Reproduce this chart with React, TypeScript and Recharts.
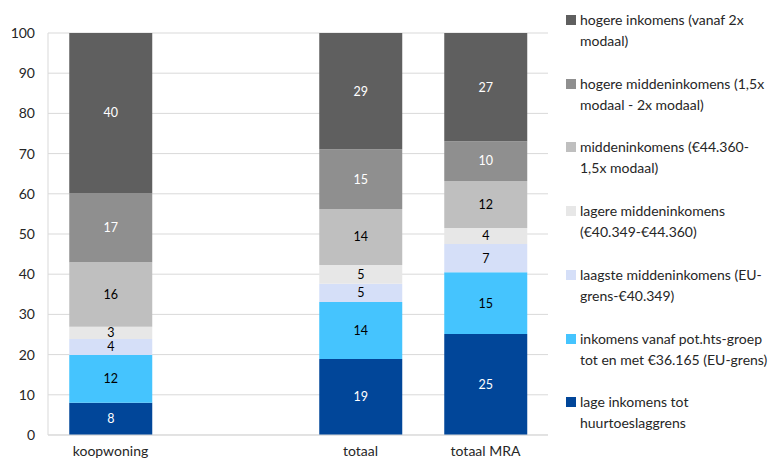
import { BarChart, Bar, XAxis, YAxis, CartesianGrid, LabelList } from "recharts"

const CATEGORIES = ["koopwoning", "", "totaal", "totaal MRA"]

// bottom to top
const LAGE = [8, null, 18.9, 25.1]
const EU = [11.9, null, 14.2, 15.4]
const LAAGSTE = [4, null, 4.5, 7.0]
const LAGERE = [3, null, 4.7, 4.0]
const MIDDEN = [16.1, null, 13.9, 11.7]
const HOGERE_MIDDEN = [17.2, null, 14.9, 9.9]
const HOGERE = [39.8, null, 28.9, 26.9]

const Y_TICKS = [0, 10, 20, 30, 40, 50, 60, 70, 80, 90, 100]

const SERIES = [
  { key: "lage", values: LAGE, name: "lage inkomens tot\nhuurtoeslaggrens", color: "#014699", label: "#ffffff" },
  { key: "eu", values: EU, name: "inkomens vanaf pot.hts-groep\ntot en met €36.165 (EU-grens)", color: "#45c4fe", label: "#000000" },
  { key: "laagste", values: LAAGSTE, name: "laagste middeninkomens (EU-\ngrens-€40.349)", color: "#d5dff8", label: "#000000" },
  { key: "lagere", values: LAGERE, name: "lagere middeninkomens\n(€40.349-€44.360)", color: "#e7e7e7", label: "#000000" },
  { key: "midden", values: MIDDEN, name: "middeninkomens (€44.360-\n1,5x modaal)", color: "#bfbfbf", label: "#000000" },
  { key: "hogereMidden", values: HOGERE_MIDDEN, name: "hogere middeninkomens (1,5x\nmodaal - 2x modaal)", color: "#8f8f8f", label: "#ffffff" },
  { key: "hogere", values: HOGERE, name: "hogere inkomens (vanaf 2x\nmodaal)", color: "#5f5f5f", label: "#ffffff" },
]

const data = CATEGORIES.map((cat, i) => {
  const row: Record<string, any> = { cat }
  SERIES.forEach(s => { row[s.key] = s.values[i] })
  return row
})

const FONT = "Lato, 'Open Sans', sans-serif"

export default function App() {
  return (
    <div style={{ position: "relative", width: 782, height: 459, background: "#fff", fontFamily: FONT }}>
      <style>{"html,body{margin:0;padding:0;}"}</style>
      <BarChart
        width={560}
        height={459}
        data={data}
        margin={{ top: 33, right: 12, left: 0, bottom: 0 }}
        barCategoryGap="17%"
      >
        <CartesianGrid vertical={false} stroke="#d9d9d9" />
        <XAxis
          dataKey="cat"
          stroke="#d9d9d9"
          tickLine={false}
          tickSize={0}
          tick={{ fontFamily: FONT, fontSize: 14, fill: "#262626" }}
          tickMargin={11}
          height={24}
        />
        <YAxis
          domain={[0, 100]}
          ticks={Y_TICKS}
          width={48}
          stroke="#d9d9d9"
          tickLine={false}
          tick={{ fontFamily: FONT, fontSize: 14, fill: "#262626" }}
          tickMargin={7}
          interval={0}
        />
        <YAxis yAxisId="r" orientation="right" width={0} stroke="#d9d9d9" tick={false} tickLine={false} />
        {SERIES.map(s => (
          <Bar key={s.key} dataKey={s.key} stackId="a" fill={s.color} isAnimationActive={false}>
            <LabelList
              dataKey={s.key}
              position="center"
              formatter={(v: any) => (v == null ? "" : Math.round(v))}
              style={{ fontFamily: FONT, fontSize: 12.5, fill: s.label }}
            />
          </Bar>
        ))}
      </BarChart>

      <div style={{ position: "absolute", left: 566, top: 9, width: 216 }}>
        {[...SERIES].reverse().map((s, i) => (
          <div key={s.key} style={{ position: "absolute", top: Math.round(i * 63.7), left: 0, display: "flex", alignItems: "flex-start", width: 216 }}>
            <div style={{ width: 10, height: 10, background: s.color, marginTop: 6, marginRight: 4, flexShrink: 0 }} />
            <span style={{ fontSize: 14, lineHeight: "21px", color: "#262626", whiteSpace: "pre" }}>{s.name}</span>
          </div>
        ))}
      </div>
    </div>
  )
}
